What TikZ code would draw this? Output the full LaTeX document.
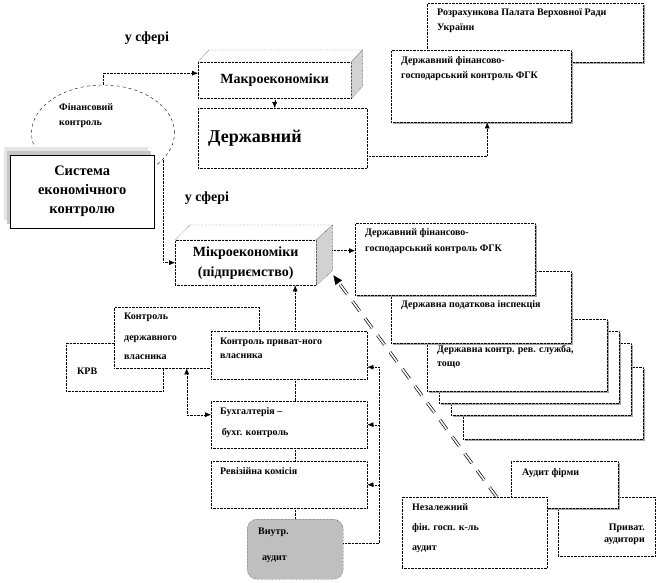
\documentclass[tikz,border=0pt]{standalone}
\usepackage{fontspec}
\setmainfont{Liberation Serif}
\usetikzlibrary{shapes.geometric,arrows.meta,shadows,calc}

\tikzset{
  plain/.style={draw, densely dotted, fill=white, anchor=north west, inner sep=0pt},
  box/.style={plain, drop shadow={shadow xshift=1.5pt, shadow yshift=-1.5pt, opacity=1, fill=gray!70}},
  face/.style={draw, densely dotted},
  txt/.style={anchor=north west, inner sep=0pt, align=left, font=\fontsize{10}{15}\selectfont\bfseries},
  big/.style={inner sep=0pt, align=center, font=\fontsize{14}{20}\selectfont\bfseries},
  link/.style={densely dotted},
  conn/.style={densely dotted, -{Latex[length=6pt,width=5pt]}},
}

\begin{document}
\begin{tikzpicture}[x=1pt, y=-1pt]
\useasboundingbox (0,0) rectangle (657,583);

% macro level
\node[big] (sphere1) at (147,38) {у сфері};
\node[plain, big, minimum width=153pt, minimum height=36pt] (macro) at (198,62) {Макроекономіки};
\draw[face, fill=white] (macro.north west) -- ++(11,-12) -- ([shift={(11,-12)}]macro.north east) -- (macro.north east) -- cycle;
\draw[face, fill=gray!35] (macro.north east) -- ([shift={(11,-12)}]macro.north east) -- ([shift={(11,-12)}]macro.south east) -- (macro.south east) -- cycle;
\node[plain, minimum width=169pt, minimum height=60pt] (derzh) at (198,108) {};
\node[anchor=west, inner sep=0pt, font=\fontsize{18}{20}\selectfont\bfseries] (derzh-t) at ([xshift=10pt]derzh.west) {Державний};

\node[box, minimum width=216pt, minimum height=59pt] (rozr) at (427,3) {};
\node[txt] (rozr-t) at (437,9) {Розрахункова Палата Верховної Ради\\України};
\node[box, minimum width=180pt, minimum height=72pt] (fgk1) at (391,50) {};
\node[txt] (fgk1-t) at (401,56) {Державний фінансово-\\господарський контроль ФГК};

% financial control and the system
\node[draw, dashed, ellipse, minimum width=143pt, minimum height=96pt, inner sep=0pt] (fin) at (103,133) {};
\node[txt] (fin-t) at (59,103) {Фінансовий\\контроль};
\fill[gray!20] (4,147) rectangle ++(144,73);
\fill[gray!45] (7,151) rectangle ++(144,73);
\node[plain, solid, big, font=\fontsize{14.5}{19}\selectfont\bfseries, minimum width=144pt, minimum height=73pt] (sys) at (10,155) {Система\\економічного\\контролю};

% micro level
\node[big] (sphere2) at (207,198) {у сфері};
\node[plain, big, minimum width=141pt, minimum height=45pt] (micro) at (175,240) {Мікроекономіки\\(підприємство)};
\draw[face, fill=white] (micro.north west) -- ++(15,-15) -- ([shift={(16,-15)}]micro.north east) -- (micro.north east) -- cycle;
\draw[face, fill=gray!35] (micro.north east) -- ([shift={(16,-15)}]micro.north east) -- ([shift={(16,-15)}]micro.south east) -- (micro.south east) -- cycle;

% state bodies
\node[box, minimum width=180pt, minimum height=72pt] (copy3) at (463,367) {};
\node[box, minimum width=180pt, minimum height=72pt] (copy2) at (451,343) {};
\node[box, minimum width=180pt, minimum height=72pt] (copy1) at (439,331) {};
\node[box, minimum width=180pt, minimum height=72pt] (drs) at (427,319) {};
\node[txt] (drs-t) at (437,345) {Державна контр. рев. служба,\\[-1pt]тощо};
\node[box, minimum width=180pt, minimum height=72pt] (dpi) at (391,271) {};
\node[txt] (dpi-t) at (401,300) {Державна податкова інспекція};
\node[box, minimum width=180pt, minimum height=72pt] (fgk2) at (355,223) {};
\node[txt] (fgk2-t) at (365,228) {Державний фінансово-\\[1pt]господарський контроль ФГК};

% enterprise level
\node[plain, minimum width=97pt, minimum height=48pt] (krv) at (66,343) {};
\node[txt] (krv-t) at (77,368) {КРВ};
\node[plain, minimum width=145pt, minimum height=61pt] (state) at (114,307) {};
\node[txt] (state-t) at (124,313) {Контроль\\[6pt]державного\\[4pt]власника};
\node[plain, minimum width=156pt, minimum height=48pt] (priv) at (211,331) {};
\node[txt] (priv-t) at (220,338) {Контроль приват-ного\\[-1pt]власника};
\node[plain, minimum width=156pt, minimum height=47pt] (buh) at (211,401) {};
\node[txt] (buh-t) at (220,407) {Бухгалтерія --\\[6pt]\,бухг. контроль};
\node[plain, minimum width=156pt, minimum height=47pt] (rev) at (211,461) {};
\node[txt] (rev-t) at (220,467) {Ревізійна комісія};
\node[plain, rounded corners=10pt, fill=gray!50, minimum width=96pt, minimum height=60pt] (vnutr) at (247,519) {};
\node[txt] (vnutr-t) at (258,528) {Внутр.\\[11pt]\hspace{4pt}аудит};

% audit
\node[plain, minimum width=97pt, minimum height=59pt] (priva) at (558,497) {};
\node[txt, anchor=north east, align=right] (priva-t) at (645,524) {Приват.\\[-3pt]аудитори};
\node[box, minimum width=107pt, minimum height=47pt] (audf) at (511,461) {};
\node[txt] (audf-t) at (522,468) {Аудит фірми};
\node[plain, minimum width=145pt, minimum height=71pt] (nez) at (402,497) {};
\node[txt] (nez-t) at (412,503) {Незалежний\\[5pt]фін. госп. к-ль\\[5pt]аудит};

% connectors
\draw[conn] (fin.north) |- ([yshift=7pt]macro.west);
\draw[conn] (macro.south) -- (macro.south |- derzh.north);
\draw[conn] ([yshift=-18pt]derzh.east) -| ([xshift=6pt]fgk1.south);
\draw[conn] (fin.-24) |- (micro.west);
\coordinate (micro-out) at ([shift={(16,-12)}]micro.east);
\draw[conn] (micro-out) -- (micro-out -| fgk2.west);
\coordinate (micro-in) at ([shift={(17,-10)}]micro.south east);
\coordinate (nez-top) at ([xshift=22pt]nez.north);
\draw[line width=0.7pt, dash pattern=on 12pt off 9pt, double, double distance=1.6pt] (nez-top) -- ($(micro-in)!8pt!(nez-top)$);
\draw[-{Triangle[length=9pt,width=8pt]}] ($(micro-in)!9pt!(nez-top)$) -- (micro-in);

\draw[conn] (vnutr.north |- priv.north) -- (vnutr.north |- micro.south);
\draw[link] (vnutr.north |- priv.south) -- (vnutr.north |- buh.north);
\draw[link] (vnutr.north |- buh.south) -- (vnutr.north |- rev.north);
\draw[link] (vnutr.north |- rev.south) -- (vnutr.north);
\draw[link, {Latex[length=6pt,width=5pt]}-{Latex[length=6pt,width=5pt]}] (state.south) |- ([yshift=10pt]buh.west);

\coordinate (bus) at ([xshift=12pt,yshift=-12pt]priv.east);
\draw[link] ([yshift=6pt]vnutr.east) -| (bus);
\draw[conn] (bus) -- (bus -| priv.east);
\draw[conn] (buh.east -| bus) -- (buh.east);
\draw[conn] (rev.east -| bus) -- (rev.east);
\end{tikzpicture}
\end{document}
